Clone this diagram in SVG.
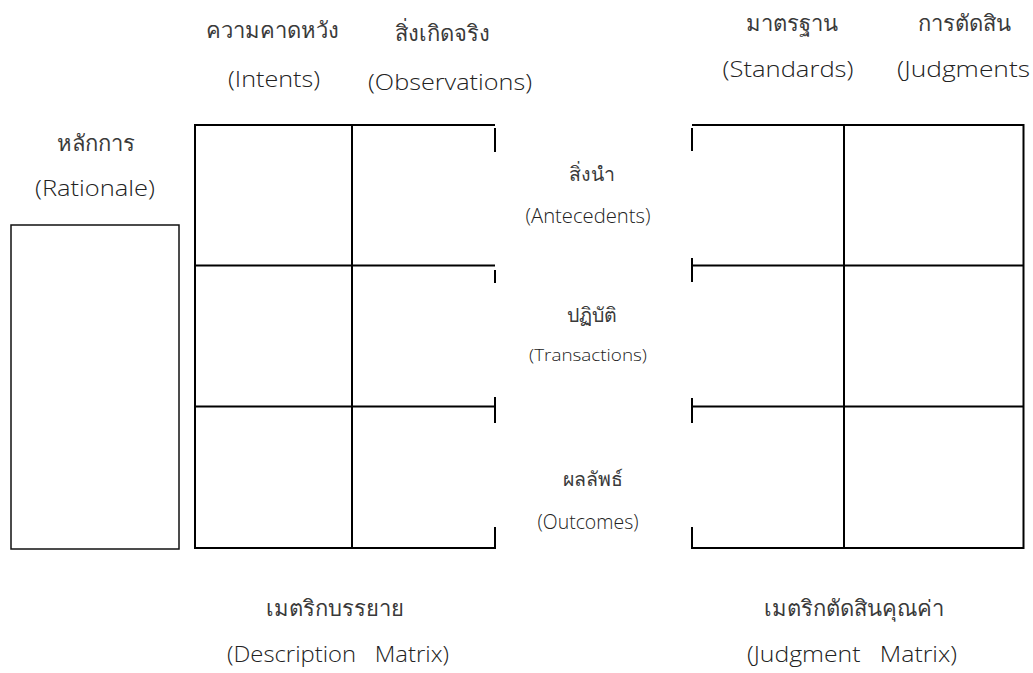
<svg xmlns="http://www.w3.org/2000/svg" width="1033" height="673" viewBox="0 0 1033 673">
<style>
text{font-family:"Open Sans","Noto Sans",sans-serif;font-weight:300;font-size:22px;fill:#222;text-anchor:middle}
.th{font-family:"Noto Sans",sans-serif;font-weight:300;font-size:22px;fill:#3a3a3a}
.thr{font-family:"Noto Sans",sans-serif;font-weight:300;font-size:19.5px;fill:#3a3a3a}
.g{fill:none;stroke:#000;stroke-width:2}
.t{stroke:#000;stroke-width:2;fill:none}
.r{fill:none;stroke:#111;stroke-width:1.5}
</style>
<rect width="1033" height="673" fill="#fff"/>
<g id="labels-top">
<text class="th" x="272.5" y="38">ความคาดหวัง</text>
<text x="274" y="87" textLength="92" lengthAdjust="spacingAndGlyphs">(Intents)</text>
<text class="th" x="442" y="41">สิ่งเกิดจริง</text>
<text x="450" y="90" textLength="164" lengthAdjust="spacingAndGlyphs">(Observations)</text>
<text class="th" x="791.5" y="31">มาตรฐาน</text>
<text x="788" y="77" textLength="131" lengthAdjust="spacingAndGlyphs">(Standards)</text>
<text class="th" x="964" y="31">การตัดสิน</text>
<text x="897" y="77" style="text-anchor:start" textLength="133" lengthAdjust="spacingAndGlyphs">(Judgments</text>
</g>
<g id="rationale">
<text class="th" x="96" y="151">หลักการ</text>
<text x="95" y="196" textLength="120" lengthAdjust="spacingAndGlyphs">(Rationale)</text>
<rect class="r" x="11" y="225" width="168" height="324"/>
</g>
<g id="description-matrix">
<path class="g" d="M195,125H495M195,265.5H495M195,406.5H495M195,548H495M195,124V549M352,124V549"/>
</g>
<g id="judgment-matrix">
<path class="g" d="M692,125H1024M692,265.5H1024M692,406.5H1024M692,548H1024M844,124V549M1023.5,124V549"/>
</g>
<g id="rows">
<text class="thr" x="592" y="181">สิ่งนำ</text>
<text x="588" y="223" style="font-size:20px" textLength="125" lengthAdjust="spacingAndGlyphs">(Antecedents)</text>
<text class="thr" x="592" y="322">ปฏิบัติ</text>
<text x="588" y="361" style="font-size:17px" textLength="118" lengthAdjust="spacingAndGlyphs">(Transactions)</text>
<text class="thr" x="593" y="486">ผลลัพธ์</text>
<text x="588" y="529" style="font-size:21px" textLength="101" lengthAdjust="spacingAndGlyphs">(Outcomes)</text>
</g>
<g id="connectors">
<path class="t" d="M495,128V152M495,270V283M495,397V423M495,527V549"/>
<path class="t" d="M692,128V151M692,258V282M692,398V423M692,527V549"/>
</g>
<g id="labels-bottom">
<text class="th" x="335" y="616">เมตริกบรรยาย</text>
<text x="338" y="662" xml:space="preserve" textLength="222" lengthAdjust="spacingAndGlyphs">(Description   Matrix)</text>
<text class="th" x="853.5" y="616">เมตริกตัดสินคุณค่า</text>
<text x="852" y="662" xml:space="preserve" textLength="210" lengthAdjust="spacingAndGlyphs">(Judgment   Matrix)</text>
</g>
</svg>
